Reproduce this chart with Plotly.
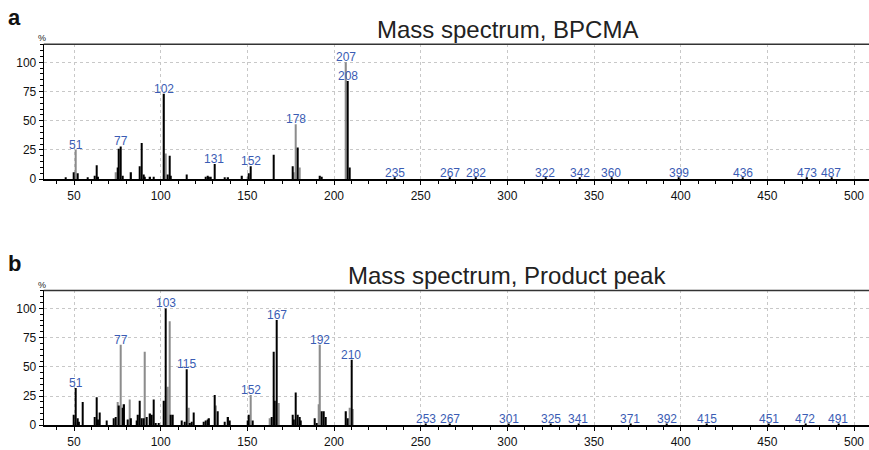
import plotly.graph_objects as go

W, H = 869, 450

# ---------------- Data: panel a (BPCMA) ----------------
a_black_mz = [45, 50, 52, 58, 62, 63, 64, 75, 76, 77, 78, 83, 88, 89, 90, 91, 94, 96,
              102, 104, 105, 106, 115, 126, 127, 128, 129, 131, 137, 139, 147, 151, 152,
              165, 176, 179, 192, 193, 208, 209,
              235, 267, 282, 322, 342, 360, 399, 436, 473, 487]
a_black_int = [1.5, 6, 5, 1, 3, 12, 2, 10, 26, 28, 3, 6, 11, 31, 4, 2, 2, 2,
               73, 4, 20, 3, 4, 2, 3, 2, 2, 13, 1, 1, 3, 5, 11,
               21, 11, 27, 3, 2, 84, 10,
               0.8, 0.8, 0.8, 0.8, 0.8, 0.8, 0.8, 0.8, 0.8, 0.8]
a_gray_mz = [51, 74, 103, 150, 177, 178, 180, 207]
a_gray_int = [25, 6, 22, 2, 6, 47, 10, 100]
a_labels = [51, 77, 102, 131, 152, 178, 207, 208, 235, 267, 282, 322, 342, 360, 399, 436, 473, 487]

# ---------------- Data: panel b (Product peak) ----------------
b_black_mz = [50, 51, 52, 53, 55, 62, 63, 64, 65, 69, 73, 74, 76, 78, 79, 81, 83, 86, 87, 88,
              89, 90, 92, 94, 95, 96, 97, 99, 102, 103, 106, 107, 112, 114, 115, 117, 118, 119,
              125, 126, 127, 128, 131, 133, 137, 139, 140, 150, 151, 153, 164, 165, 166, 167,
              176, 177, 178, 179, 180, 181, 189, 190, 193, 194, 195, 207, 208, 210,
              253, 267, 301, 325, 341, 371, 392, 415, 451, 472, 491]
b_black_int = [9, 32, 6, 3, 20, 7, 24, 5, 11, 4, 6, 7, 17, 15, 18, 5, 6, 4, 9, 21,
               6, 6, 7, 10, 9, 22, 2, 2, 21, 100, 9, 9, 4, 3, 48, 2, 3, 11,
               3, 4, 5, 6, 26, 12, 3, 7, 4, 4, 9, 4, 7, 63, 21, 90,
               9, 5, 28, 9, 7, 4, 6, 2, 12, 12, 7, 12, 6, 56,
               0.8, 0.8, 0.8, 0.8, 0.8, 0.8, 0.8, 0.8, 0.8, 0.8, 0.8]
b_gray_mz = [75, 77, 82, 91, 104, 105, 116, 132, 152, 163, 168, 191, 192, 209, 211]
b_gray_int = [20, 69, 22, 63, 33, 89, 15, 17, 26, 6, 19, 18, 69, 15, 14]
b_labels = [51, 77, 103, 115, 152, 167, 192, 210, 253, 267, 301, 325, 341, 371, 392, 415, 451, 472, 491]

titles = ["Mass spectrum, BPCMA", "Mass spectrum, Product peak"]
panel_letters = ["a", "b"]
y_ticks = [0, 25, 50, 75, 100]
x_ticks = [50, 100, 150, 200, 250, 300, 350, 400, 450, 500]

X_RANGE = [32.5, 508.65]
Y_RANGE = [0, 115.4]

# pixel layout of the two plot areas (top, bottom)
panels_px = [(45, 182), (295, 432)]
LEFT_PX = 43.7

def fy(py):
    return 1 - py / H

def fx(px):
    return px / W

fig = go.Figure()
BLACK = "#000000"
GRAY = "#8c8c8c"
LABEL_COLOR = "#3a5cb4"

panels = [
    (a_black_mz, a_black_int, a_gray_mz, a_gray_int, a_labels),
    (b_black_mz, b_black_int, b_gray_mz, b_gray_int, b_labels),
]

annotations = []
shapes = []
for i, (bm, bi, gm, gi, labs) in enumerate(panels):
    xa = "x" if i == 0 else "x2"
    ya = "y" if i == 0 else "y2"
    fig.add_trace(go.Bar(x=gm, y=gi, width=0.75, marker=dict(color=GRAY, line=dict(width=0)),
                         xaxis=xa, yaxis=ya, showlegend=False))
    fig.add_trace(go.Bar(x=bm, y=bi, width=0.75, marker=dict(color=BLACK, line=dict(width=0)),
                         xaxis=xa, yaxis=ya, showlegend=False))
    heights = {}
    for m, v in list(zip(bm, bi)) + list(zip(gm, gi)):
        heights[m] = max(heights.get(m, 0), v)
    for m in labs:
        annotations.append(dict(x=m, y=heights.get(m, 0), xref=xa, yref=ya, text=str(m),
                                showarrow=False, yanchor="bottom", yshift=-4,
                                font=dict(family="Arial, Liberation Sans", size=12, color=LABEL_COLOR)))
    top, bot = panels_px[i]
    # title
    annotations.append(dict(x=fx(507), y=fy(top - 15), xref="paper", yref="paper",
                            text=titles[i], showarrow=False, xanchor="center", yanchor="middle",
                            font=dict(family="Arial, Liberation Sans", size=24, color="#222222")))
    annotations.append(dict(x=fx(15), y=fy(top - 27), xref="paper", yref="paper",
                            text="<b>%s</b>" % panel_letters[i], showarrow=False,
                            xanchor="center", yanchor="middle",
                            font=dict(family="Arial, Liberation Sans", size=22, color="#111111")))
    annotations.append(dict(x=fx(42), y=fy(top - 6), xref="paper", yref="paper",
                            text="%", showarrow=False, xanchor="center", yanchor="middle",
                            font=dict(family="Arial, Liberation Sans", size=9, color="#222222")))
    shapes.append(dict(type="line", xref=xa + " domain" if xa != "x" else "x domain",
                       yref=ya + " domain" if ya != "y" else "y domain",
                       x0=0, x1=1, y0=1, y1=1, line=dict(color="#333333", width=1.5)))

axis_font = dict(family="Arial, Liberation Sans", size=12, color="#111111")

def xaxis(domain_anchor):
    return dict(domain=[fx(LEFT_PX), 1], range=X_RANGE, anchor=domain_anchor,
                tickvals=x_ticks, ticks="outside", ticklen=4, tickcolor="black",
                showline=True, linecolor="black", linewidth=2,
                showgrid=True, gridcolor="#c8c8c8", griddash="3px,3px", gridwidth=1,
                minor=dict(dtick=10, tick0=0, ticks="outside", ticklen=3, tickcolor="black", showgrid=False),
                tickfont=axis_font, zeroline=False, fixedrange=True)

def yaxis(i, anchor):
    top, bot = panels_px[i]
    return dict(domain=[fy(bot), fy(top)], range=Y_RANGE, anchor=anchor,
                tickvals=y_ticks, ticks="outside", ticklen=4, tickcolor="black",
                showline=True, linecolor="black", linewidth=1,
                showgrid=True, gridcolor="#c8c8c8", griddash="3px,3px", gridwidth=1,
                minor=dict(dtick=5, tick0=0, ticks="outside", ticklen=3, tickcolor="black", showgrid=False),
                tickfont=axis_font, zeroline=False, fixedrange=True)

fig.update_layout(
    width=W, height=H,
    margin=dict(l=0, r=0, t=0, b=0),
    paper_bgcolor="white", plot_bgcolor="white",
    barmode="overlay",
    xaxis=xaxis("y"), yaxis=yaxis(0, "x"),
    xaxis2=xaxis("y2"), yaxis2=yaxis(1, "x2"),
    annotations=annotations, shapes=shapes,
    showlegend=False,
)

fig.write_html("out.html")
